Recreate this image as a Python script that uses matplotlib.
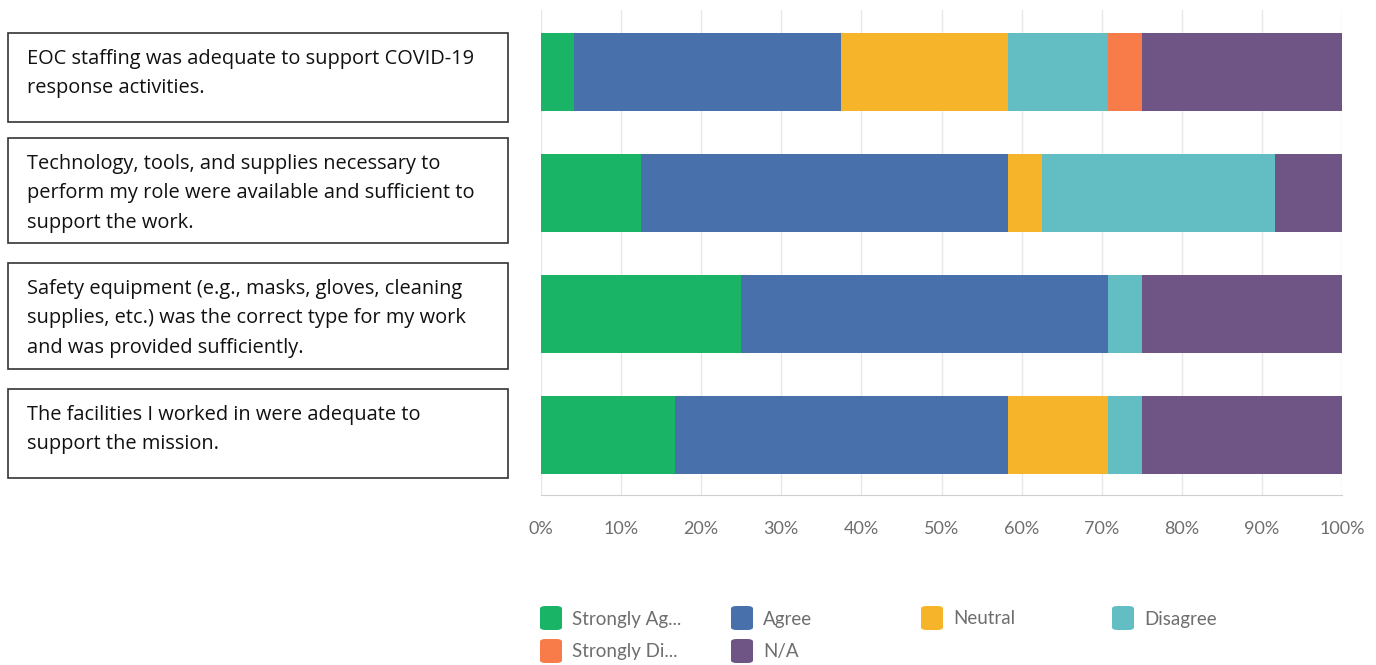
import matplotlib
matplotlib.use("Agg")
import matplotlib.pyplot as plt
from matplotlib.patches import Rectangle, FancyBboxPatch
import numpy as np

questions = [
    "EOC staffing was adequate to support COVID-19\nresponse activities.",
    "Technology, tools, and supplies necessary to\nperform my role were available and sufficient to\nsupport the work.",
    "Safety equipment (e.g., masks, gloves, cleaning\nsupplies, etc.) was the correct type for my work\nand was provided sufficiently.",
    "The facilities I worked in were adequate to\nsupport the mission.",
]
categories = ["Strongly Ag...", "Agree", "Neutral", "Disagree", "Strongly Di...", "N/A"]
colors = ["#1ab467", "#4870aa", "#f6b42b", "#63bec4", "#f77c49", "#6f5486"]

strongly_agree = [4.17, 12.50, 25.00, 16.67]
agree = [33.33, 45.83, 45.83, 41.67]
neutral = [20.83, 4.17, 0.00, 12.50]
disagree = [12.50, 29.17, 4.17, 4.17]
strongly_disagree = [4.17, 0.00, 0.00, 0.00]
not_applicable = [25.00, 8.33, 25.00, 25.00]
series = [strongly_agree, agree, neutral, disagree, strongly_disagree, not_applicable]

ticks = [0, 10, 20, 30, 40, 50, 60, 70, 80, 90, 100]
tick_labels = [f"{t}%" for t in ticks]

W, H = 1376, 665
fig = plt.figure(figsize=(W / 100, H / 100), dpi=100)
fig.patch.set_facecolor("white")

ax = fig.add_axes([541 / W, 1 - 495 / H, (1342 - 541) / W, (495 - 10) / H])
y = np.arange(len(questions))
left = np.zeros(len(questions))
for vals, col, name in zip(series, colors, categories):
    ax.barh(y, vals, left=left, height=0.645, color=col, label=name, zorder=3)
    left += np.array(vals)

ax.set_xlim(0, 100)
ax.set_ylim(3.5, -0.51)
ax.set_xticks(ticks)
ax.set_xticklabels(tick_labels, family="Lato", fontsize=13, color="#6e6e6e")
ax.tick_params(axis="x", length=0, pad=19)
ax.set_yticks([])
ax.grid(axis="x", color="#e8e8e8", linewidth=1, zorder=0)
for s in ["top", "right", "left"]:
    ax.spines[s].set_visible(False)
ax.spines["bottom"].set_color("#cfcfcf")

# Left question boxes
boxes = [(33, 122), (138, 243), (263, 369), (389, 478)]
for (top, bot), q in zip(boxes, questions):
    fig.patches.append(Rectangle((8 / W, 1 - bot / H), (508 - 8) / W, (bot - top) / H,
                                 transform=fig.transFigure, fill=False,
                                 edgecolor="#333333", linewidth=1.2))
    fig.text(27 / W, 1 - (top + 16) / H, q, ha="left", va="top",
             family="Open Sans", fontsize=14.4, color="#111111", linespacing=1.62)

# Legend
legend_pos = [(540, 606), (731, 606), (921, 606), (1112, 606), (540, 639), (731, 639)]
for (lx, ly), col, name in zip(legend_pos, colors, categories):
    fig.patches.append(FancyBboxPatch((lx / W, 1 - (ly + 24) / H), 22 / W, 24 / H,
                                      boxstyle="round,pad=0,rounding_size=0.004",
                                      transform=fig.transFigure, facecolor=col,
                                      edgecolor="none"))
    fig.text((lx + 32) / W, 1 - (ly + 13) / H, name, ha="left", va="center",
             family="Lato", fontsize=13.5, color="#6e6e6e")

fig.savefig("out.png", dpi=100)
